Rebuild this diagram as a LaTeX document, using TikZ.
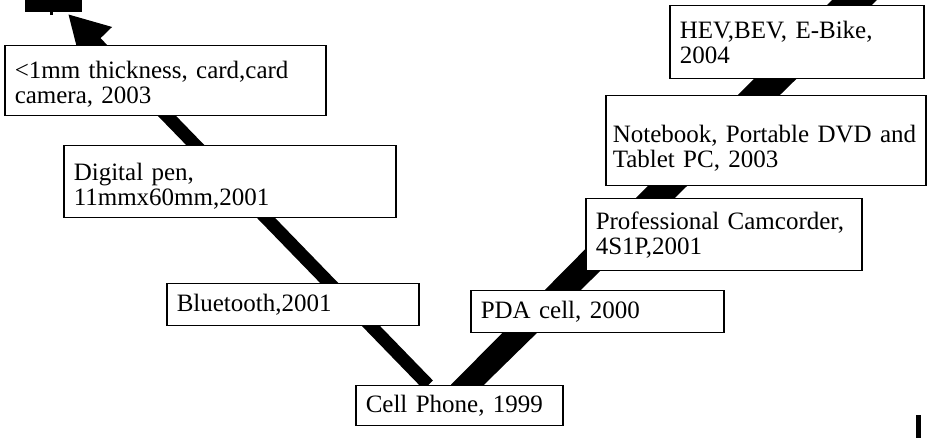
\documentclass[tikz,border=0pt]{standalone}
\usepackage{fontspec}
\setmainfont{Liberation Serif}
\usetikzlibrary{arrows.meta,backgrounds}

\begin{document}
\begin{tikzpicture}[x=1pt,y=-1pt,
		box/.style={draw,line width=1.5pt,fill=white,align=left,anchor=north west,
			inner xsep=10pt,inner ysep=0pt,font=\fontsize{25}{25}\selectfont},
		low/.style={execute at begin node={\rule{0pt}{#1}}},
		trunk/.style={line width=13pt}]
		\useasboundingbox (0,0) rectangle (927,438);
		\node[box,low=25pt,text width=301pt,minimum height=70pt] (thin) at (4,45) {<1mm thickness, card,card\\camera, 2003};
		\node[box,low=27pt,text width=312pt,minimum height=72pt] (pen) at (63,145) {Digital pen,\\11mmx60mm,2001};
		\node[box,text width=232pt,minimum height=42pt] (blue) at (166,283) {Bluetooth,2001};
		\node[box,text width=187pt,minimum height=40pt] (cell) at (355,385) {Cell Phone, 1999};
		\node[box,text width=233pt,minimum height=42pt] (pda) at (470,290) {PDA cell, 2000};
		\node[box,text width=256pt,minimum height=72pt] (cam) at (585,198) {Professional Camcorder,\\4S1P,2001};
		\node[box,low=33pt,inner xsep=7pt,text width=306pt,minimum height=90pt] (note) at (605,95) {Notebook, Portable DVD and\\Tablet PC, 2003};
		\node[box,text width=234pt,minimum height=73pt] (hev) at (669,5) {HEV,BEV, E-Bike,\\2004};
		\coordinate (tipL) at (68,14);
		\coordinate (tipR) at (854.5,0);
		\begin{scope}[on background layer]
			\draw[trunk,-{Triangle[length=40pt,width=42pt]}] ([xshift=-31pt]cell.north) -- (tipL);
			\fill ([xshift=-8.5pt]cell.north) -- ([xshift=24.5pt]cell.north)
			-- ([xshift=22.5pt]tipR) -- ([xshift=-22.5pt]tipR) -- cycle;
		\end{scope}
		\fill (25,0) rectangle (82,12);
		\fill (50,12) rectangle (53,15);
		\fill (916,415) rectangle (921,438);
\end{tikzpicture}
\end{document}
